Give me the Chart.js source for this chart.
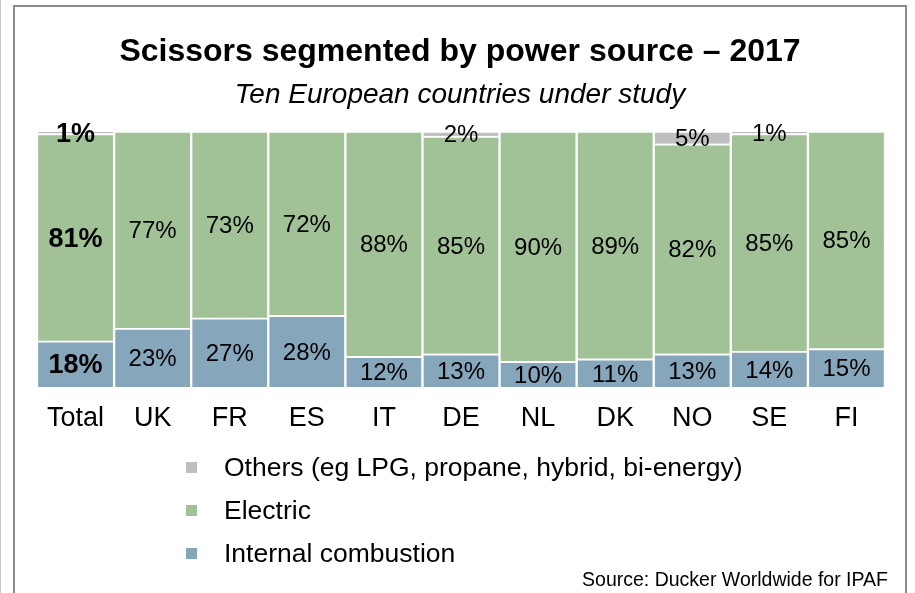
<!DOCTYPE html>
<html>
<head>
<meta charset="utf-8">
<script src="https://cdn.jsdelivr.net/npm/chart.js@4.4.1/dist/chart.umd.min.js"></script>
<style>
  html, body { margin: 0; padding: 0; background: #fff; }
  body { width: 915px; height: 593px; position: relative; overflow: hidden; font-family: 'Liberation Sans', Arial, sans-serif; color: #000; }
  .edge { position: absolute; left: 0; top: 0; width: 1px; height: 593px; background: #c8c8c8; }
  .frame { position: absolute; left: 13px; top: 5px; width: 890px; height: 620px; border: 2px solid #8a8a8a; border-bottom: none; }
  #chart-wrap { position: absolute; left: 0; top: 0; width: 915px; height: 593px; }
  .chart-title { position: absolute; left: 15px; width: 890px; text-align: center; white-space: nowrap; }
  #title { top: 32px; font-size: 32px; font-weight: bold; }
  #subtitle { top: 78px; font-size: 28px; font-style: italic; }
  #legend { position: absolute; left: 186px; top: 446px; }
  .legend-item { display: flex; align-items: center; height: 43px; font-size: 26.5px; }
  .legend-box { width: 11px; height: 11px; margin-right: 27px; }
  #source { position: absolute; right: 27px; top: 568px; font-size: 19.5px; }
</style>
</head>
<body>
<div class="edge"></div>
<div class="frame"></div>
<div id="chart-wrap"><canvas id="canvas-power"></canvas></div>
<div class="chart-title" id="title">Scissors segmented by power source – 2017</div>
<div class="chart-title" id="subtitle">Ten European countries under study</div>
<div id="legend"></div>
<div id="source">Source: Ducker Worldwide for IPAF</div>

<script>
const categories = ['Total', 'UK', 'FR', 'ES', 'IT', 'DE', 'NL', 'DK', 'NO', 'SE', 'FI'];
const combustion = [18, 23, 27, 28, 12, 13, 10, 11, 13, 14, 15];
const electric   = [81, 77, 73, 72, 88, 85, 90, 89, 82, 85, 85];
const others     = [1, 0, 0, 0, 0, 2, 0, 0, 5, 1, 0];

const seriesNames = ['Internal combustion', 'Electric', 'Others (eg LPG, propane, hybrid, bi-energy)'];
const seriesColors = ['#86a6bb', '#a1c196', '#bfbfbf'];

const FONT = "'Liberation Sans', Arial, sans-serif";

// value labels centred in each segment, Total column in bold
const barLabels = {
  id: 'barLabels',
  afterDatasetsDraw(chart) {
    const ctx = chart.ctx;
    chart.data.datasets.forEach((ds, di) => {
      const meta = chart.getDatasetMeta(di);
      meta.data.forEach((bar, i) => {
        const v = ds.data[i];
        if (!v) return;
        const p = bar.getProps(['x', 'y', 'base'], true);
        ctx.save();
        ctx.font = (i === 0 ? 'bold 27px ' : '24px ') + FONT;
        ctx.fillStyle = '#000';
        ctx.textAlign = 'center';
        ctx.textBaseline = 'middle';
        ctx.fillText(v + '%', p.x, (p.y + p.base) / 2 + 2);
        ctx.restore();
      });
    });
  }
};

const ctx = document.getElementById('canvas-power').getContext('2d');
const chart = new Chart(ctx, {
  type: 'bar',
  data: {
    labels: categories,
    datasets: [combustion, electric, others].map((data, i) => ({
      label: seriesNames[i],
      data: data,
      backgroundColor: seriesColors[i],
      borderColor: '#ffffff',
      borderWidth: { top: 2, left: 1.5, right: 1.5, bottom: 0 },
      borderSkipped: false,
      barPercentage: 1,
      categoryPercentage: 1
    }))
  },
  options: {
    responsive: true,
    maintainAspectRatio: false,
    animation: false,
    layout: { padding: { left: 37, right: 30, top: 131, bottom: 156 } },
    scales: {
      x: {
        stacked: true,
        grid: { display: false, drawTicks: false },
        border: { display: false },
        ticks: { color: '#000', font: { family: FONT, size: 27 }, padding: 15 },
        afterFit: (scale) => { scale.height = 50; }
      },
      y: {
        stacked: true,
        display: false,
        min: 0,
        max: 100
      }
    },
    plugins: {
      legend: { display: false },
      tooltip: { enabled: false }
    }
  },
  plugins: [barLabels]
});

// legend listed top-down as in the stack (Others first)
document.getElementById('legend').innerHTML = chart.data.datasets.slice().reverse().map(ds =>
  `<div class="legend-item"><span class="legend-box" style="background:${ds.backgroundColor}"></span><span>${ds.label}</span></div>`
).join('');
</script>
</body>
</html>
